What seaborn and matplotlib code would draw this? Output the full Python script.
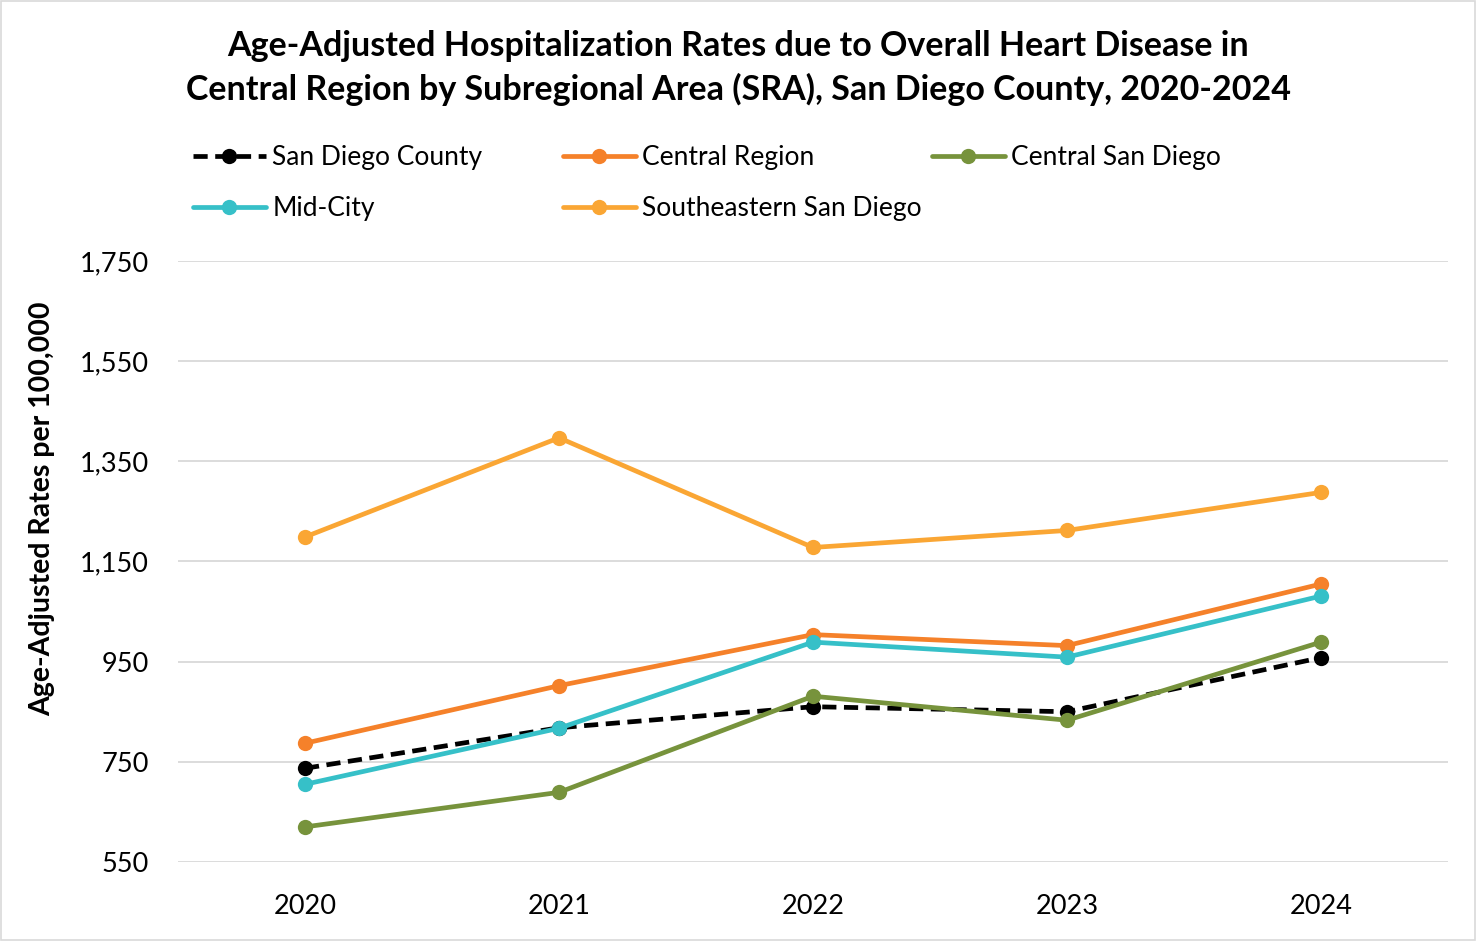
import matplotlib
matplotlib.use("Agg")
import matplotlib.pyplot as plt
import seaborn as sns
import pandas as pd
from matplotlib.patches import Rectangle

years = ["2020", "2021", "2022", "2023", "2024"]
san_diego_county = [737, 818, 860, 850, 958]
central_region = [787, 902, 1004, 982, 1105]
central_san_diego = [620, 689, 881, 833, 989]
mid_city = [705, 817, 989, 959, 1081]
southeastern_san_diego = [1199, 1397, 1178, 1212, 1288]

series_names = ["San Diego County", "Central Region", "Central San Diego",
                "Mid-City", "Southeastern San Diego"]
series_values = [san_diego_county, central_region, central_san_diego,
                 mid_city, southeastern_san_diego]
colors = {
    "San Diego County": "#000000",
    "Central Region": "#F5812A",
    "Central San Diego": "#77933C",
    "Mid-City": "#36C0C8",
    "Southeastern San Diego": "#FAA634",
}
y_ticks = [550, 750, 950, 1150, 1350, 1550, 1750]

rows = []
for name, vals in zip(series_names, series_values):
    for i, (yr, v) in enumerate(zip(years, vals)):
        rows.append({"Series": name, "Year": yr, "idx": i, "Rate": v})
df = pd.DataFrame(rows)

sns.set_theme(style="white")
plt.rcParams["font.family"] = ["Lato", "DejaVu Sans"]
plt.rcParams["text.color"] = "black"
plt.rcParams["xtick.color"] = "black"
plt.rcParams["ytick.color"] = "black"
plt.rcParams["axes.labelcolor"] = "black"

fig = plt.figure(figsize=(14.76, 9.41), dpi=100)
ax = fig.add_axes([0.1206, 0.084, 0.8604, 0.6386])

for name in series_names:
    sub = df[df["Series"] == name]
    dashed = name == "San Diego County"
    sns.lineplot(data=sub, x="idx", y="Rate", ax=ax, color=colors[name],
                 linewidth=3.4, marker="o", markersize=11,
                 markeredgewidth=0, linestyle=(0, (3, 1.6)) if dashed else "-",
                 label=name, sort=False)

line_handles, line_labels = ax.get_legend_handles_labels()
hmap = dict(zip(line_labels, line_handles))
if ax.legend_ is not None:
    ax.legend_.remove()

columns = [(["San Diego County", "Mid-City"], 193),
           (["Central Region", "Southeastern San Diego"], 563),
           (["Central San Diego"], 932)]
for names, xpx in columns:
    fig.legend([hmap[n] for n in names], names,
               loc="upper left", bbox_to_anchor=(xpx / 1476, 1 - 145 / 941),
               bbox_transform=fig.transFigure,
               frameon=False, fontsize=19, handlelength=2.75,
               handletextpad=0.25, labelspacing=1.0, borderaxespad=0,
               borderpad=0)

ax.set_xlim(-0.5, 4.5)
ax.set_ylim(550, 1750)
ax.set_xticks(range(len(years)))
ax.set_xticklabels(years, fontsize=19.5)
ax.set_yticks(y_ticks)
ax.set_yticklabels([f"{t:,}" for t in y_ticks], fontsize=19.5)
ax.tick_params(axis="both", length=0)
ax.tick_params(axis="y", pad=21)
ax.tick_params(axis="x", pad=23)
ax.grid(axis="y", color="#D9D9D9", linewidth=1.3)
ax.set_axisbelow(True)
for s in ax.spines.values():
    s.set_visible(False)
ax.set_xlabel("")
ax.set_ylabel("Age-Adjusted Rates per 100,000", fontsize=20.5, fontweight="bold")
ax.yaxis.set_label_coords((55 - 178) / 1270, 0.587)

fig.text(0.5, 1 - 68 / 941,
         "Age-Adjusted Hospitalization Rates due to Overall Heart Disease in\n"
         "Central Region by Subregional Area (SRA), San Diego County, 2020-2024",
         ha="center", va="center", fontsize=24.5, fontweight="bold",
         linespacing=1.42)

fig.patches.append(Rectangle((0.0007, 0.001), 0.9986, 0.998,
                             transform=fig.transFigure, fill=False,
                             edgecolor="#D9D9D9", linewidth=1.2))

fig.savefig("out.png", dpi=100)
